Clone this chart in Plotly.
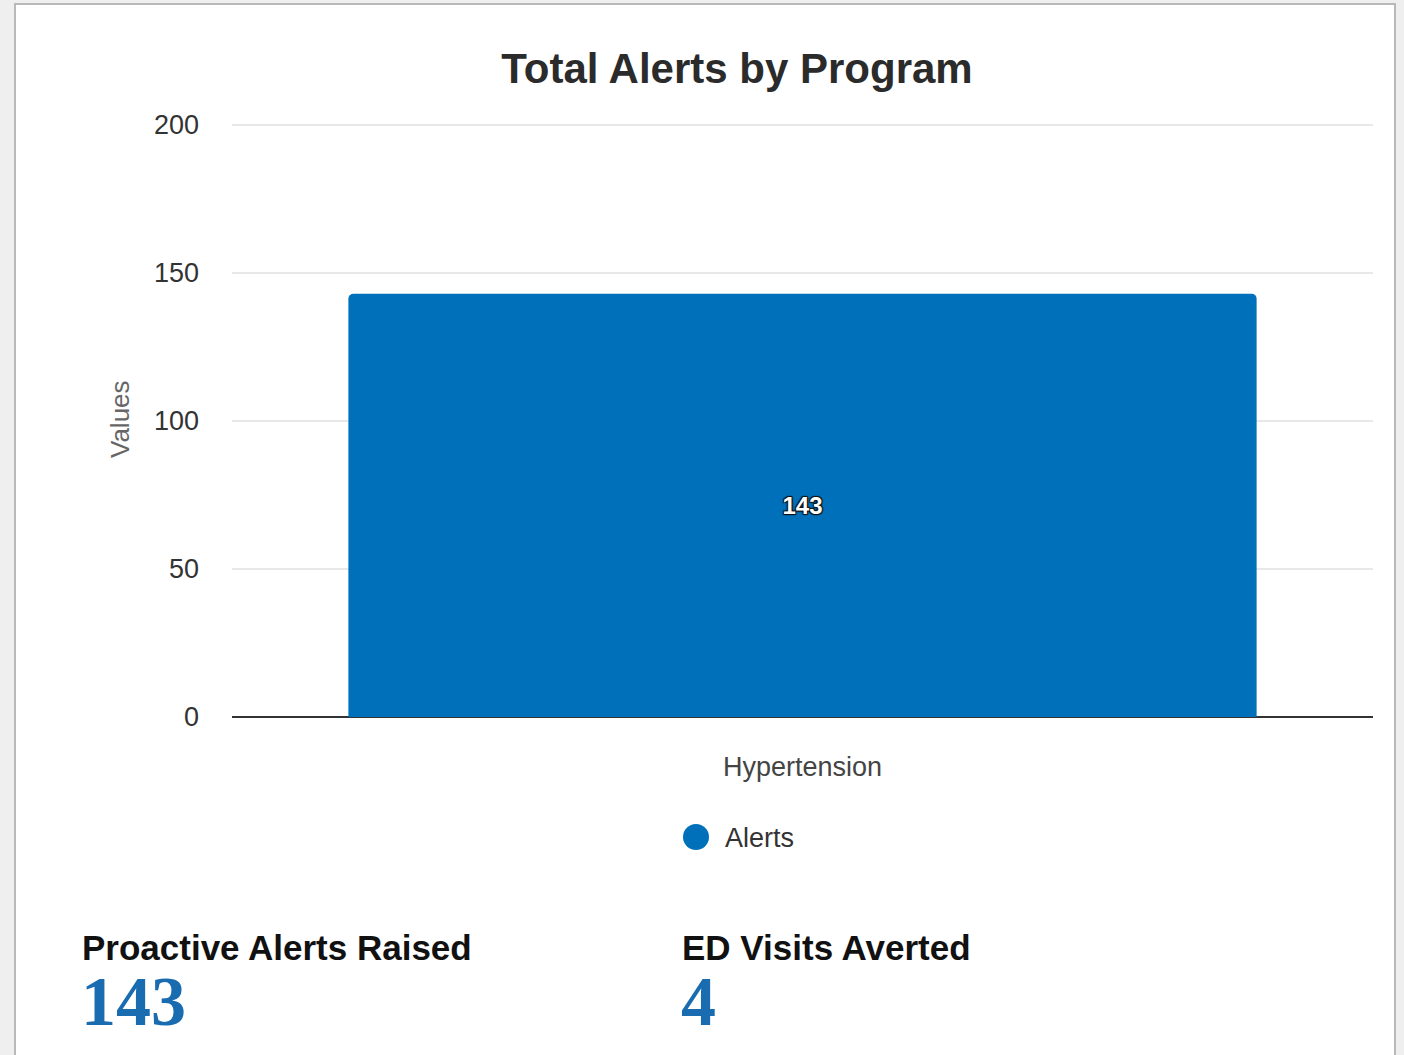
import plotly.graph_objects as go

# ---- data ----
categories = ["Hypertension"]
alerts = [143]
series_name = "Alerts"
y_ticks = [0, 50, 100, 150, 200]
kpi_labels = ["Proactive Alerts Raised", "ED Visits Averted"]
kpi_values = [143, 4]

W, H = 1404, 1055
BAR = "#0070BA"


def px(x):
    return x / W


def py(y):
    return 1 - y / H


fig = go.Figure()
fig.add_trace(go.Bar(
    x=categories, y=alerts, name=series_name,
    marker=dict(color=BAR, line=dict(width=0), cornerradius=5),
    width=0.796,
    text=[str(v) for v in alerts], textposition="inside",
    insidetextanchor="middle", constraintext="none",
    textfont=dict(family="Liberation Sans, Arial, sans-serif", size=24, color="white",
                  weight="bold",
                  shadow="1px 1px 1px #111, -1px -1px 1px #111, 1px -1px 1px #111, -1px 1px 1px #111"),
    showlegend=False, hoverinfo="x+y",
))

shapes = [
    # card
    dict(type="rect", xref="paper", yref="paper", x0=px(15), x1=px(1395), y0=py(1060), y1=py(4),
         fillcolor="white", line=dict(color="#b9b9b9", width=2), layer="below"),
    # legend marker
    dict(type="circle", xref="paper", yref="paper", x0=px(683), x1=px(709), y0=py(850), y1=py(824),
         fillcolor=BAR, line=dict(width=0)),
]

FONT = "Liberation Sans, Arial, sans-serif"
annotations = [
    dict(text="Values", x=px(120), y=py(419), xref="paper", yref="paper", textangle=-90,
         xanchor="center", yanchor="middle",
         showarrow=False, font=dict(family=FONT, size=26, color="#666666")),
    dict(text=series_name, x=px(723), y=py(838), xref="paper", yref="paper",
         xanchor="left", yanchor="middle",
         showarrow=False, font=dict(family=FONT, size=27, color="#333333")),
]
kpi_x = [82, 682]
for lx, lab, val in zip(kpi_x, kpi_labels, kpi_values):
    annotations.append(dict(text="<b>%s</b>" % lab, x=px(lx - 2), y=py(947), xref="paper", yref="paper",
                            xanchor="left", yanchor="middle", showarrow=False,
                            font=dict(family=FONT, size=35, color="#111111")))
    annotations.append(dict(text="<b>%s</b>" % val, x=px(lx - 3), y=py(1001), xref="paper", yref="paper",
                            xanchor="left", yanchor="middle", showarrow=False,
                            font=dict(family="Liberation Serif, Times New Roman, serif", size=70,
                                      color="#1A6CB0")))

Y_MAX = 202
top_px = 717 - Y_MAX / 200 * 592

fig.update_layout(
    width=W, height=H,
    margin=dict(l=0, r=0, t=0, b=0, autoexpand=False),
    paper_bgcolor="#efefef", plot_bgcolor="rgba(0,0,0,0)",
    title=dict(text="<b>Total Alerts by Program</b>", x=px(737), xanchor="center",
               y=py(68), yanchor="middle", automargin=False,
               font=dict(family=FONT, size=42, color="#2b2b2b")),
    xaxis=dict(domain=[px(232), px(1373)], range=[-0.5, 0.5], showgrid=False, showline=False,
               zeroline=False, ticks="", ticklabelstandoff=31, automargin=False,
               tickfont=dict(family=FONT, size=27, color="#444444")),
    yaxis=dict(domain=[py(717), py(top_px)], range=[0, Y_MAX], tickvals=y_ticks,
               showgrid=True, gridcolor="#e8e8e8", gridwidth=2,
               zeroline=True, zerolinecolor="#333333", zerolinewidth=2,
               showline=False, ticks="", ticklabelstandoff=32, automargin=False,
               tickfont=dict(family=FONT, size=27, color="#333333")),
    shapes=shapes, annotations=annotations, showlegend=False,
    bargap=0.2,
)

fig.write_html("out.html")
